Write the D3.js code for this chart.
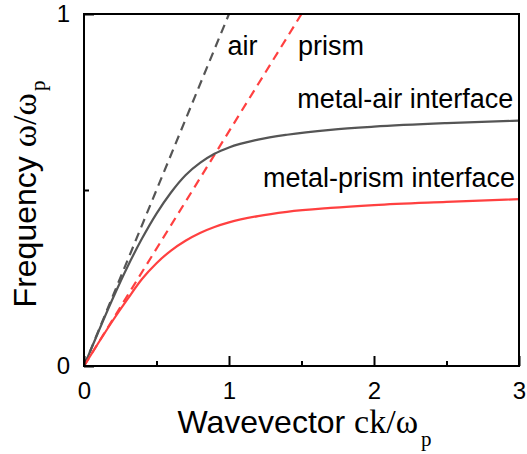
<!DOCTYPE html>
<html>
<head>
<meta charset="utf-8">
<script src="https://cdn.jsdelivr.net/npm/d3@7"></script>
<style>
  body { margin: 0; background: #fff; }
  svg { display: block; font-family: "Liberation Sans", Arial, sans-serif; }
  .axis path { display: none; }
  .axis line { stroke: #000; stroke-width: 2; }
  .axis text { font-size: 24px; fill: #000; font-family: "Liberation Sans", Arial, sans-serif; }
  .label { font-size: 27px; fill: #000; }
  .title { font-size: 32px; fill: #000; }
  .math { font-family: "Liberation Serif", "Times New Roman", serif; font-size: 34px; }
</style>
</head>
<body>
<div class="chart-container"></div>
<script>
// ticks
var kTicks = [0, 1, 2, 3];
var kMinor = [0.5, 1.5, 2.5];
var wTicks = [0, 1];
var wMinor = [0.5];

// light lines (dashed)
var airK = [0, 1];
var airW = [0, 1];
var prismK = [0, 1.5];
var prismW = [0, 1];

// surface plasmon dispersion
var metalAirK = [0, 0.1, 0.2, 0.3, 0.4, 0.5, 0.6, 0.7, 0.8, 0.9, 1.0, 1.2, 1.4, 1.7, 2.0, 2.5, 3.0];
var metalAirW = [0, 0.098, 0.193, 0.282, 0.362, 0.433, 0.493, 0.542, 0.577, 0.603, 0.621, 0.643, 0.657, 0.671, 0.68, 0.69, 0.697];
var metalPrismK = [0, 0.1, 0.2, 0.3, 0.4, 0.5, 0.6, 0.7, 0.8, 0.9, 1.0, 1.2, 1.4, 1.7, 2.0, 2.5, 3.0];
var metalPrismW = [0, 0.066, 0.13, 0.19, 0.247, 0.292, 0.328, 0.356, 0.378, 0.395, 0.408, 0.426, 0.438, 0.449, 0.457, 0.466, 0.474];

var margin = {top: 14, left: 84};

var gray = '#555555';
var red = '#ff4040';

var x = d3.scaleLinear().domain([0, 3]).range([margin.left, margin.left + 435]);
var y = d3.scaleLinear().domain([0, 1]).range([margin.top + 352, margin.top]);

var svg = d3.select('.chart-container').append('svg')
  .attr('width', 527)
  .attr('height', 454);

var line = d3.line()
  .curve(d3.curveMonotoneX)
  .x(d => x(d[0]))
  .y(d => y(d[1]));

function zip(a, b) {
  return a.map((v, i) => [v, b[i]]);
}

function addLine(data, color, dashed) {
  svg.append('path')
    .datum(data)
    .attr('d', line)
    .attr('fill', 'none')
    .attr('stroke', color)
    .attr('stroke-width', 2.2)
    .attr('stroke-dasharray', dashed ? '9,6' : null);
}

addLine(zip(airK, airW), gray, true);
addLine(zip(prismK, prismW), red, true);
addLine(zip(metalAirK, metalAirW), gray, false);
addLine(zip(metalPrismK, metalPrismW), red, false);

// axes, ticks pointing inward
svg.append('g')
  .attr('class', 'axis')
  .attr('transform', `translate(0,${y(0)})`)
  .call(d3.axisBottom(x).tickValues(kTicks).tickSize(-10).tickPadding(16).tickFormat(d3.format('d')));
svg.append('g')
  .attr('class', 'axis')
  .attr('transform', `translate(0,${y(0)})`)
  .call(d3.axisBottom(x).tickValues(kMinor).tickSize(-5).tickFormat(''));
svg.append('g')
  .attr('class', 'axis')
  .attr('transform', `translate(${x(0)},0)`)
  .call(d3.axisLeft(y).tickValues(wTicks).tickSize(-10).tickPadding(14).tickFormat(d3.format('d')));
svg.append('g')
  .attr('class', 'axis')
  .attr('transform', `translate(${x(0)},0)`)
  .call(d3.axisLeft(y).tickValues(wMinor).tickSize(-5).tickFormat(''));

// frame
svg.append('rect')
  .attr('x', x(0))
  .attr('y', y(1))
  .attr('width', x(3) - x(0))
  .attr('height', y(0) - y(1))
  .attr('fill', 'none')
  .attr('stroke', '#000')
  .attr('stroke-width', 2);

/*
 * Curve labels
 */
function label(text, k, w) {
  svg.append('text')
    .attr('class', 'label')
    .attr('x', x(k))
    .attr('y', y(w))
    .text(text);
}
label('air', 0.99, 0.884);
label('prism', 1.475, 0.884);
label('metal-air interface', 1.47, 0.732);
label('metal-prism interface', 1.235, 0.508);

/*
 * Axis titles
 */
var xt = svg.append('text')
  .attr('class', 'title')
  .attr('x', (x(0) + x(3)) / 2 + 3)
  .attr('y', y(0) + 67)
  .attr('text-anchor', 'middle');
xt.append('tspan').text('Wavevector ');
xt.append('tspan').attr('class', 'math').text('ck/ω');
xt.append('tspan').attr('class', 'math').style('font-size', '21px').attr('dx', 3).attr('dy', 13).text('p');

var yt = svg.append('text')
  .attr('class', 'title')
  .attr('text-anchor', 'middle')
  .attr('transform', `translate(36, ${(y(0) + y(1)) / 2 + 4}) rotate(-90)`);
yt.append('tspan').text('Frequency ');
yt.append('tspan').attr('class', 'math').text('ω/ω');
yt.append('tspan').attr('class', 'math').style('font-size', '21px').attr('dx', 2).attr('dy', 9).text('p');
</script>
</body>
</html>
